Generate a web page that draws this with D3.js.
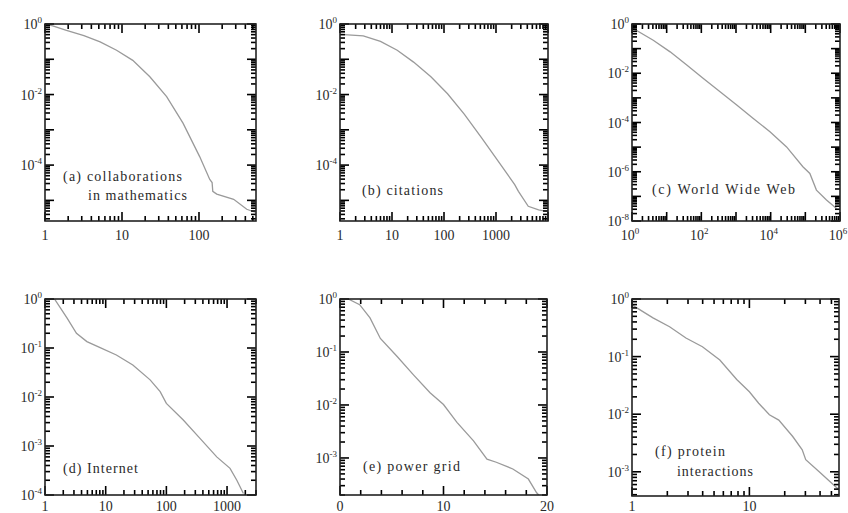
<!DOCTYPE html>
<html>
<head>
<meta charset="utf-8">
<script src="https://cdn.jsdelivr.net/npm/d3@7"></script>
<style>
  body { margin: 0; background: #fff; }
  text { font-family: "Liberation Serif", "DejaVu Serif", serif; fill: #2a2a2a; }
</style>
</head>
<body>
<svg id="chart" width="848" height="513"></svg>
<script>
// cumulative degree distributions
const mathX = [1, 1.26, 1.9, 3.2, 5.2, 8.5, 13.8, 23, 38, 62, 102, 138, 148, 151, 170, 282, 417, 537];
const mathY = [1, 0.89, 0.66, 0.47, 0.31, 0.18, 0.093, 0.032, 0.0087, 0.00155, 1.74e-4, 3.9e-5, 3.2e-5, 1.8e-5, 1.5e-5, 1.07e-5, 5.6e-6, 4.6e-6];

const citeX = [1, 2.8, 6, 12.6, 26, 56, 117, 245, 525, 1100, 2290, 2700, 4170, 6600, 9500];
const citeY = [0.51, 0.46, 0.32, 0.18, 0.083, 0.032, 0.0105, 0.0028, 6.0e-4, 1.3e-4, 2.8e-5, 1.8e-5, 6.8e-6, 5.4e-6, 4.9e-6];

const wwwX = [1, 4.1, 12.6, 38, 112, 347, 1050, 3090, 9550, 28800, 85000, 135000, 209000, 407000, 794000];
const wwwY = [0.7, 0.22, 0.074, 0.0214, 0.0062, 0.00178, 5.1e-4, 1.5e-4, 4.2e-5, 1.02e-5, 1.6e-6, 8.5e-7, 1.8e-7, 7.1e-8, 3.2e-8];

const netX = [1, 1.45, 2.3, 3.3, 4.9, 8.1, 15, 28, 54, 79, 100, 190, 355, 676, 1120, 1450, 1860];
const netY = [1, 0.98, 0.41, 0.2, 0.135, 0.102, 0.072, 0.045, 0.0224, 0.0129, 0.0074, 0.0034, 0.00145, 6.0e-4, 3.5e-4, 2.0e-4, 1.07e-4];

const gridX = [0.8, 1.9, 2.9, 3.9, 5.5, 7.1, 8.7, 10, 11.3, 12.9, 14.2, 15.1, 16.7, 18.2, 19.0, 19.2];
const gridY = [1, 0.78, 0.44, 0.18, 0.083, 0.037, 0.017, 0.0102, 0.0047, 0.0021, 9.5e-4, 8.3e-4, 6.2e-4, 4.0e-4, 2.2e-4, 2.0e-4];

const protX = [1, 1.51, 2.09, 2.88, 3.98, 5.6, 7.8, 10, 12, 14.8, 17.8, 23.4, 28.2, 30.2, 38.9, 53.7, 58];
const protY = [0.79, 0.47, 0.33, 0.21, 0.148, 0.087, 0.040, 0.0245, 0.0155, 0.0098, 0.0079, 0.0041, 0.0024, 0.00162, 0.00102, 5.6e-4, 4.9e-4];

// tick labels
const mathXLabels = [1, 10, 100];
const citeXLabels = [1, 10, 100, 1000];
const wwwXExps = [0, 2, 4, 6];
const netXLabels = [1, 10, 100, 1000];
const gridXLabels = [0, 10, 20];
const protXLabels = [1, 10];
const mathYExps = [0, -2, -4];
const citeYExps = [0, -2, -4];
const wwwYExps = [0, -2, -4, -6, -8];
const netYExps = [0, -1, -2, -3, -4];
const gridYExps = [0, -1, -2, -3];
const protYExps = [0, -1, -2, -3];

const svg = d3.select("#chart");

const panels = [
  { x0: 45, x1: 256, y0: 24, y1: 221, xs: mathX, ys: mathY, xLog: true, xDom: [1, 550], yDom: [2.6e-6, 1],
    xLabels: mathXLabels, yExps: mathYExps,
    notes: [{ t: "(a) collaborations", x: 63, y: 181, w: 119 }, { t: "in mathematics", x: 88, y: 200, w: 99 }] },
  { x0: 340, x1: 548, y0: 24, y1: 221, xs: citeX, ys: citeY, xLog: true, xDom: [1, 1e4], yDom: [2.6e-6, 1],
    xLabels: citeXLabels, yExps: citeYExps,
    notes: [{ t: "(b) citations", x: 362, y: 195, w: 81 }] },
  { x0: 632, x1: 840, y0: 24, y1: 221, xs: wwwX, ys: wwwY, xLog: true, xDom: [1, 1e6], yDom: [1e-8, 1],
    xExps: wwwXExps, yExps: wwwYExps,
    notes: [{ t: "(c) World Wide Web", x: 652, y: 194, w: 143 }] },
  { x0: 45, x1: 256, y0: 299, y1: 495, xs: netX, ys: netY, xLog: true, xDom: [1, 3000], yDom: [1e-4, 1],
    xLabels: netXLabels, yExps: netYExps,
    notes: [{ t: "(d) Internet", x: 63, y: 473, w: 75 }] },
  { x0: 340, x1: 547, y0: 299, y1: 495, xs: gridX, ys: gridY, xLog: false, xDom: [0, 20], yDom: [2e-4, 1],
    xLabels: gridXLabels, yExps: gridYExps,
    notes: [{ t: "(e) power grid", x: 363, y: 471, w: 97 }] },
  { x0: 632, x1: 839, y0: 299, y1: 496, xs: protX, ys: protY, xLog: true, xDom: [1, 58], yDom: [3.8e-4, 1],
    xLabels: protXLabels, yExps: protYExps,
    notes: [{ t: "(f) protein", x: 655, y: 456, w: 70 }, { t: "interactions", x: 677, y: 476, w: 76 }] }
];

function logTicks(dom) {
  const out = [];
  const lo = Math.floor(Math.log10(dom[0])), hi = Math.ceil(Math.log10(dom[1]));
  for (let e = lo; e <= hi; e++) {
    for (let m = 1; m <= 9; m++) {
      const v = m * Math.pow(10, e);
      if (v >= dom[0] * 0.9999 && v <= dom[1] * 1.0001) out.push({ v: v, major: m === 1 });
    }
  }
  return out;
}

function supLabel(sel, exp) {
  sel.append("tspan").text("10");
  sel.append("tspan").attr("dy", -6).attr("font-size", 9).text(exp);
}

panels.forEach((p, i) => {
  const x = p.xLog ? d3.scaleLog().domain(p.xDom).range([p.x0, p.x1])
                   : d3.scaleLinear().domain(p.xDom).range([p.x0, p.x1]);
  const y = d3.scaleLog().domain(p.yDom).range([p.y1, p.y0]);
  const g = svg.append("g");

  g.append("clipPath").attr("id", "clip" + i)
    .append("rect").attr("x", p.x0).attr("y", p.y0)
    .attr("width", p.x1 - p.x0).attr("height", p.y1 - p.y0);

  // curve
  const pts = p.xs.map((v, k) => [v, p.ys[k]]);
  g.append("path").datum(pts)
    .attr("clip-path", `url(#clip${i})`)
    .attr("fill", "none").attr("stroke", "#9a9a9a").attr("stroke-width", 1.3)
    .attr("d", d3.line().x(d => x(d[0])).y(d => y(d[1])));

  // ticks, inward on all four sides
  const xt = p.xLog ? logTicks(p.xDom)
                    : d3.range(0, 21, 2).map(v => ({ v: v, major: v % 10 === 0 }));
  const yt = logTicks(p.yDom);
  xt.forEach(d => {
    const len = d.major ? 9 : 5, px = x(d.v);
    g.append("line").attr("x1", px).attr("x2", px).attr("y1", p.y1).attr("y2", p.y1 - len)
      .style("stroke", "#000").style("stroke-width", 1.6);
    g.append("line").attr("x1", px).attr("x2", px).attr("y1", p.y0).attr("y2", p.y0 + len)
      .style("stroke", "#000").style("stroke-width", 1.6);
  });
  yt.forEach(d => {
    const len = d.major ? 9 : 5, py = y(d.v);
    g.append("line").attr("y1", py).attr("y2", py).attr("x1", p.x0).attr("x2", p.x0 + len)
      .style("stroke", "#000").style("stroke-width", 1.6);
    g.append("line").attr("y1", py).attr("y2", py).attr("x1", p.x1).attr("x2", p.x1 - len)
      .style("stroke", "#000").style("stroke-width", 1.6);
  });

  // frame
  g.append("rect").attr("x", p.x0).attr("y", p.y0)
    .attr("width", p.x1 - p.x0).attr("height", p.y1 - p.y0)
    .attr("fill", "none").attr("stroke", "#222").attr("stroke-width", 1.6);

  // x labels
  const lby = p.y0 < 100 ? 240 : 511;
  if (p.xLabels) {
    p.xLabels.forEach(v => {
      g.append("text").attr("x", x(v)).attr("y", lby)
        .attr("text-anchor", "middle").attr("font-size", 14).text(v);
    });
  }
  if (p.xExps) {
    p.xExps.forEach(e => {
      const t = g.append("text").attr("x", x(Math.pow(10, e)) - 2).attr("y", lby)
        .attr("text-anchor", "middle").attr("font-size", 14);
      supLabel(t, e);
    });
  }

  // y labels
  p.yExps.forEach(e => {
    const t = g.append("text").attr("x", p.x0 - 3).attr("y", y(Math.pow(10, e)) + 5)
      .attr("text-anchor", "end").attr("font-size", 14);
    supLabel(t, e);
  });

  // panel notes
  p.notes.forEach(n => {
    g.append("text").attr("x", n.x).attr("y", n.y).attr("font-size", 14)
      .attr("textLength", n.w).attr("lengthAdjust", "spacing").text(n.t);
  });
});
</script>
</body>
</html>
